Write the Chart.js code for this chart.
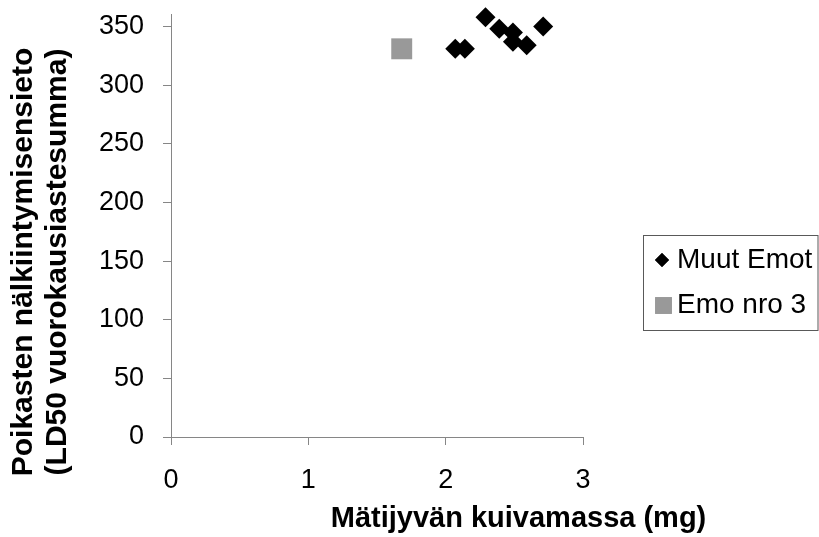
<!DOCTYPE html>
<html>
<head>
<meta charset="utf-8">
<script src="https://cdn.jsdelivr.net/npm/chart.js@4/dist/chart.umd.min.js"></script>
<style>
  html, body { margin: 0; padding: 0; background: #ffffff; }
  #wrap { width: 819px; height: 537px; }
</style>
</head>
<body>
<div id="wrap"><canvas id="c" width="819" height="537"></canvas></div>
<script>
// Series: egg dry mass (mg) vs. larval starvation tolerance (LD50 degree-day sum)
const seriesNames = ['Muut Emot', 'Emo nro 3'];
const muutMass = [2.29, 2.39, 2.49, 2.49, 2.59, 2.71, 2.07, 2.14];
const muutLd50 = [358, 348, 345, 337, 334, 350, 331, 331];
const emo3Mass = [1.68];
const emo3Ld50 = [331];

// Axis ticks and titles
const xTicks = [0, 1, 2, 3];
const yTicks = [0, 50, 100, 150, 200, 250, 300, 350];
const xTitle = 'Mätijyvän kuivamassa (mg)';
const yTitle = ['Poikasten nälkiintymisensieto', '(LD50 vuorokausiastesumma)'];

const FONT = "'Liberation Sans', Arial, Helvetica, sans-serif";
const AXIS_GREY = '#868686';

const toPoints = (xs, ys) => xs.map((x, i) => ({ x: x, y: ys[i] }));

const styles = [
  { pointStyle: 'rectRot', radius: 10, color: '#000000', legendRadius: 7 },
  { pointStyle: 'rect', radius: 14.8, color: '#999999', legendRadius: 11.8 }
];

// Axis titles and the boxed legend, drawn after the chart itself
const decorPlugin = {
  id: 'decor',
  afterDraw(chart) {
    const ctx = chart.ctx;
    ctx.save();
    ctx.fillStyle = '#000000';

    // x-axis title
    ctx.font = 'bold 29px ' + FONT;
    ctx.textAlign = 'center';
    ctx.textBaseline = 'alphabetic';
    ctx.fillText(xTitle, 518.5, 527);

    // y-axis title, two rotated lines
    ctx.font = 'bold 30px ' + FONT;
    const baselines = [32, 66];
    yTitle.forEach((line, i) => {
      ctx.save();
      ctx.translate(baselines[i], 262);
      ctx.rotate(-Math.PI / 2);
      ctx.fillText(line, 0, 0);
      ctx.restore();
    });

    // legend box
    ctx.strokeStyle = '#595959';
    ctx.lineWidth = 1;
    ctx.strokeRect(643.5, 235.5, 174.5, 95);

    const rows = [
      { y: 260, mx: 662 },
      { y: 305.5, mx: 663.5 }
    ];
    ctx.font = '28px ' + FONT;
    ctx.textAlign = 'left';
    ctx.textBaseline = 'middle';
    chart.data.datasets.forEach((ds, i) => {
      const st = styles[i];
      ctx.fillStyle = st.color;
      ctx.strokeStyle = st.color;
      Chart.helpers.drawPoint(ctx, {
        pointStyle: st.pointStyle,
        radius: st.legendRadius,
        rotation: 0,
        borderWidth: 0
      }, rows[i].mx, rows[i].y);
      ctx.fill();
      ctx.fillStyle = '#000000';
      ctx.fillText(ds.label, 677, rows[i].y);
    });
    ctx.restore();
  }
};

new Chart(document.getElementById('c'), {
  type: 'scatter',
  data: {
    datasets: [
      {
        label: seriesNames[0],
        data: toPoints(muutMass, muutLd50),
        pointStyle: styles[0].pointStyle,
        pointRadius: styles[0].radius,
        pointBackgroundColor: styles[0].color,
        pointBorderColor: styles[0].color,
        pointBorderWidth: 0,
        clip: false
      },
      {
        label: seriesNames[1],
        data: toPoints(emo3Mass, emo3Ld50),
        pointStyle: styles[1].pointStyle,
        pointRadius: styles[1].radius,
        pointBackgroundColor: styles[1].color,
        pointBorderColor: styles[1].color,
        pointBorderWidth: 0,
        clip: false
      }
    ]
  },
  options: {
    responsive: false,
    animation: false,
    devicePixelRatio: 1,
    events: [],
    layout: { padding: { top: 12, right: 236, bottom: 0, left: 0 } },
    plugins: {
      legend: { display: false },
      tooltip: { enabled: false },
      title: { display: false }
    },
    scales: {
      x: {
        type: 'linear',
        position: 'bottom',
        min: 0,
        max: 3,
        afterBuildTicks(scale) { scale.ticks = xTicks.map(v => ({ value: v })); },
        afterFit(scale) {
          scale.height = 100;
          scale.paddingLeft = 0;
          scale.paddingRight = 0;
        },
        ticks: {
          color: '#000000',
          font: { family: FONT, size: 27 },
          padding: 19,
          maxRotation: 0,
          minRotation: 0
        },
        grid: {
          drawOnChartArea: false,
          drawTicks: true,
          tickLength: 8,
          color: AXIS_GREY,
          lineWidth: 1
        },
        border: { display: true, color: AXIS_GREY, width: 1 }
      },
      y: {
        type: 'linear',
        position: 'left',
        min: 0,
        max: 360,
        afterBuildTicks(scale) { scale.ticks = yTicks.map(v => ({ value: v })); },
        afterFit(scale) {
          scale.width = 171;
          scale.paddingTop = 0;
          scale.paddingBottom = 0;
        },
        ticks: {
          color: '#000000',
          font: { family: FONT, size: 27 },
          padding: 19
        },
        grid: {
          drawOnChartArea: false,
          drawTicks: true,
          tickLength: 8,
          color: AXIS_GREY,
          lineWidth: 1
        },
        border: { display: true, color: AXIS_GREY, width: 1 }
      }
    }
  },
  plugins: [decorPlugin]
});
</script>
</body>
</html>
